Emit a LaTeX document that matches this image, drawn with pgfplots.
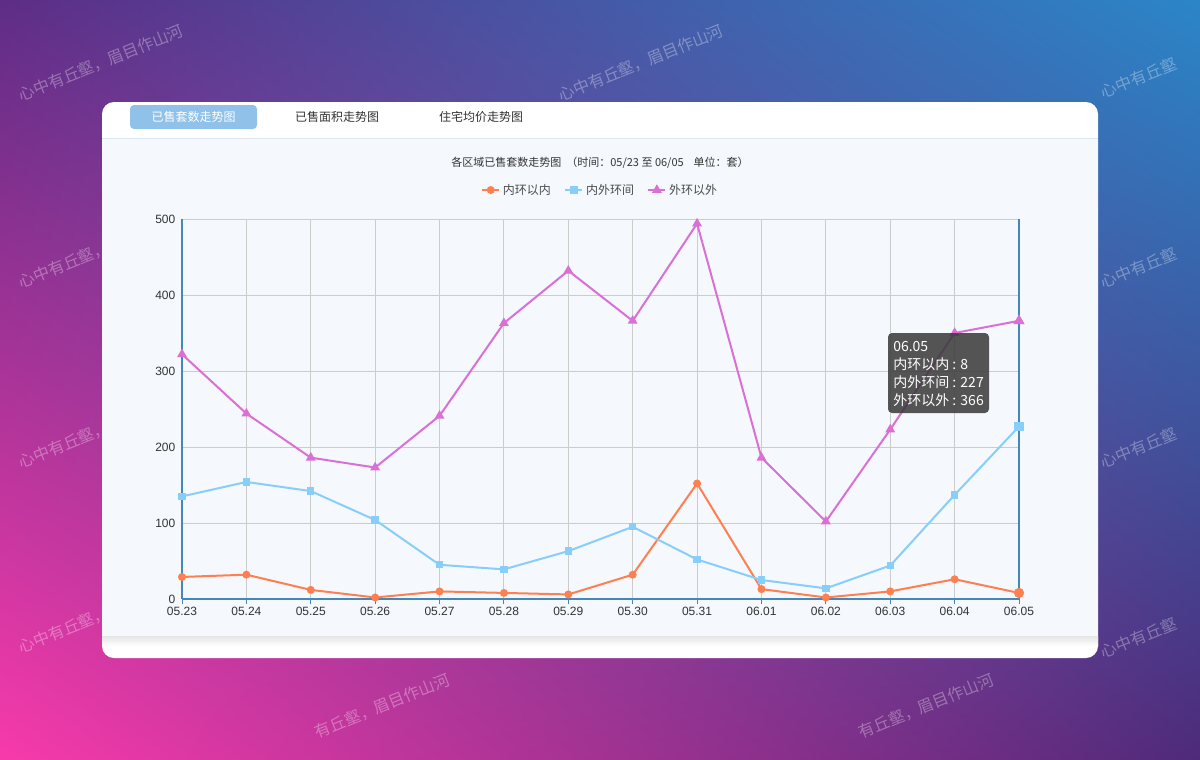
\documentclass[border=0pt]{standalone}
\usepackage{fontspec}
\setmainfont{Liberation Sans}
\newfontfamily\cjk{Noto Sans CJK SC}
\usepackage{pgfplots}
\pgfplotsset{compat=1.18}
\usetikzlibrary{shadings}
\definecolor{cOrange}{HTML}{FF7F50}
\definecolor{cBlue}{HTML}{87CEFA}
\definecolor{cPurple}{HTML}{DA70D6}
\definecolor{cAxis}{HTML}{4488BB}
\definecolor{cGrid}{HTML}{CCCCCC}
\definecolor{bgUL}{HTML}{5E2D86}
\definecolor{bgUR}{HTML}{2B86C8}
\definecolor{bgLL}{HTML}{F83AAB}
\definecolor{bgLR}{HTML}{4E2A7A}
\definecolor{cTab}{HTML}{8FC1E9}
\definecolor{cBody}{HTML}{F5F8FC}
\definecolor{cSep}{HTML}{DCE5EE}
\definecolor{cText}{HTML}{333333}
\begin{document}
\begin{tikzpicture}[x=0.75pt,y=-0.75pt]
\useasboundingbox (0,0) rectangle (1200,760);
\begin{scope}
\clip (0,0) rectangle (1200,760);
\shade[upper left=bgUL, upper right=bgUR, lower left=bgLL, lower right=bgLR] (0,0) rectangle (1200,760);
\tikzset{wm/.style={rotate=22, anchor=south west, text=white, text opacity=0.32, inner sep=0pt, font=\cjk\fontsize{12}{12}\selectfont}}
\foreach \p in {(22,103),(562,103)}
  \node[wm] at \p {心中有丘壑，眉目作山河};
\foreach \p in {(22,290),(22,470),(22,655)}
  \node[wm] at \p {心中有丘壑，};
\foreach \p in {(1104,100),(1104,290),(1104,470),(1104,660)}
  \node[wm] at \p {心中有丘壑};
\foreach \p in {(318,740),(862,740)}
  \node[wm] at \p {有丘壑，眉目作山河};
\end{scope}
% card
\fill[white, rounded corners=9pt] (102,102) rectangle (1098,658);
\fill[cBody] (102,138) rectangle (1098,636);
\shade[top color=black!10, bottom color=white] (102,636) rectangle (1098,646);
\draw[cSep, line width=0.75pt] (102,138) -- (1098,138);
% tabs
\fill[cTab, rounded corners=3pt] (130,105) rectangle (257,129);
\node[text=white, font=\cjk\fontsize{9}{10}\selectfont] at (193.5,117) {已售套数走势图};
\node[text=cText, font=\cjk\fontsize{9}{10}\selectfont] at (337,117) {已售面积走势图};
\node[text=cText, font=\cjk\fontsize{9}{10}\selectfont] at (481,117) {住宅均价走势图};
% title
\node[text=cText, font=\cjk\fontsize{8.25}{10}\selectfont] at (600,163) {各区域已售套数走势图\ \ （时间：05/23 至 06/05\ \ \ \ 单位：套）};
\coordinate (O) at (182,599);
\begin{axis}[
  at={(O)}, anchor=south west, scale only axis,
  width=627.75pt, height=285pt,
  xmin=0, xmax=13, ymin=0, ymax=500,
  xtick={0,...,13},
  xticklabels={05.23,05.24,05.25,05.26,05.27,05.28,05.29,05.30,05.31,06.01,06.02,06.03,06.04,06.05},
  ytick={0,100,200,300,400,500},
  grid=major, grid style={cGrid, line width=0.75pt},
  axis line style={draw=none},
  tick style={cAxis, line width=0.75pt},
  ytick style={draw=none},
  xtick align=outside, major tick length=3.75pt,
  xtick pos=bottom,
  tick label style={font=\fontsize{9}{10}\selectfont, text=cText},
  yticklabel style={xshift=-1.5pt},
  xticklabel style={yshift=1pt},
  /pgf/number format/assume math mode=true,
  clip=false,
  legend columns=3,
  legend style={draw=none, fill=none, at={(0.5,1.0763)}, anchor=center,
    font=\cjk\fontsize{9}{10}\selectfont, text=black!70,
    /tikz/every even column/.append style={column sep=8pt}},
  legend image code/.code={\draw[mark repeat=2,mark phase=2,#1] plot coordinates {(0pt,0pt) (6.4pt,0pt) (12.8pt,0pt)};},
]
\draw[cAxis, line width=1.5pt] (axis cs:0,0) -- (axis cs:0,500);
\draw[cAxis, line width=1.5pt] (axis cs:0,0) -- (axis cs:13,0);
\draw[cAxis, line width=1.2pt] (axis cs:13,0) -- (axis cs:13,500);
\addplot[cOrange, line width=1.5pt, mark=*, mark size=2.2pt, mark options={fill=cOrange, draw=cOrange}] coordinates {
(0,29)(1,32)(2,12)(3,2)(4,10)(5,8)(6,6)(7,32)(8,152)(9,13)(10,2)(11,10)(12,26)(13,8)};
\addlegendentry{内环以内}
\addplot[cBlue, line width=1.5pt, mark=square*, mark size=2pt, mark options={fill=cBlue, draw=cBlue}] coordinates {
(0,135)(1,154)(2,142)(3,104)(4,45)(5,39)(6,63)(7,95)(8,52)(9,25)(10,14)(11,44)(12,137)(13,227)};
\addlegendentry{内外环间}
\addplot[cPurple, line width=1.5pt, mark=triangle*, mark size=2.8pt, mark options={fill=cPurple, draw=cPurple}] coordinates {
(0,322)(1,244)(2,186)(3,173)(4,241)(5,363)(6,432)(7,366)(8,494)(9,186)(10,102)(11,223)(12,350)(13,366)};
\addlegendentry{外环以外}
\addplot[forget plot, only marks, mark=*, mark size=3.6pt, cOrange, mark options={fill=cOrange}] coordinates {(13,8)};
\addplot[forget plot, only marks, mark=square*, mark size=3.2pt, cBlue, mark options={fill=cBlue}] coordinates {(13,227)};
\addplot[forget plot, only marks, mark=triangle*, mark size=4.4pt, cPurple, mark options={fill=cPurple}] coordinates {(13,366)};
\end{axis}
% tooltip
\fill[black!78, opacity=0.85, rounded corners=3pt] (888,333) rectangle (989,413);
\begin{scope}[every node/.style={anchor=base west, text=white, inner sep=0pt, font=\cjk\fontsize{10.5}{12}\selectfont}]
\node at (893,351) {06.05};
\node at (893,369) {内环以内 : 8};
\node at (893,387) {内外环间 : 227};
\node at (893,405) {外环以外 : 366};
\end{scope}
\end{tikzpicture}
\end{document}
